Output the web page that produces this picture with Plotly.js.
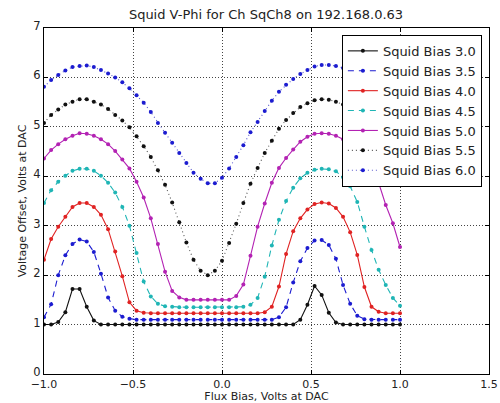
<!DOCTYPE html>
<html>
<head>
<meta charset="utf-8">
<script src="https://cdn.plot.ly/plotly-3.0.1.min.js"></script>
<style>html,body{margin:0;padding:0;background:#fff;}#chart{width:500px;height:403px;}</style>
</head>
<body>
<div id="chart"></div>
<script>
var fluxBias = [-1.00,-0.96,-0.92,-0.88,-0.84,-0.80,-0.76,-0.72,-0.68,-0.64,-0.60,-0.56,-0.52,-0.48,-0.44,-0.40,-0.36,-0.32,-0.28,-0.24,-0.20,-0.16,-0.12,-0.08,-0.04,0.00,0.04,0.08,0.12,0.16,0.20,0.24,0.28,0.32,0.36,0.40,0.44,0.48,0.52,0.56,0.60,0.64,0.68,0.72,0.76,0.80,0.84,0.88,0.92,0.96,1.00];

var bias30 = [1.00,1.00,1.05,1.25,1.72,1.72,1.36,1.08,1.00,
  1.00,1.00,1.00,1.00,1.00,1.00,1.00,1.00,1.00,1.00,1.00,1.00,1.00,1.00,1.00,1.00,1.00,1.00,1.00,1.00,1.00,1.00,1.00,1.00,1.00,1.00,
  1.00,1.10,1.40,1.78,1.60,1.24,1.04,
  1.00,1.00,1.00,1.00,1.00,1.00,1.00,1.00,1.00];

var bias35 = [1.15,1.41,2.00,2.40,2.63,2.72,2.68,2.47,2.03,1.55,1.28,1.16,1.12,1.10,
  1.10,1.10,1.10,1.10,1.10,1.10,1.10,1.10,1.10,1.10,1.10,1.10,1.10,1.10,1.10,1.10,1.10,1.10,1.10,
  1.15,1.35,1.85,2.28,2.55,2.70,2.71,2.61,2.33,1.80,1.42,1.18,1.11,
  1.10,1.10,1.10,1.10,1.10];

var bias40 = [2.31,2.73,2.98,3.18,3.38,3.46,3.46,3.38,3.22,2.93,2.48,1.98,1.45,1.28,1.24,
  1.23,1.23,1.23,1.23,1.23,1.23,1.23,1.23,1.23,1.23,1.23,1.23,1.23,1.23,1.23,
  1.23,1.25,1.36,1.77,2.43,2.89,3.15,3.33,3.44,3.47,3.45,3.36,3.18,2.87,2.41,1.76,1.36,1.26,1.23,1.23,1.23];

var bias45 = [3.46,3.72,3.89,4.01,4.11,4.15,4.15,4.11,4.01,3.87,3.67,3.38,3.00,2.45,1.87,1.57,1.42,1.37,1.36,
  1.35,1.35,1.35,1.35,1.35,1.35,1.35,1.35,1.35,
  1.36,1.40,1.54,1.97,2.60,3.12,3.50,3.77,3.96,4.07,4.13,4.15,4.14,4.10,3.98,3.80,3.48,2.98,2.51,2.11,1.80,1.54,1.38];

var bias50 = [4.36,4.53,4.65,4.75,4.82,4.87,4.86,4.82,4.75,4.65,4.51,4.34,4.16,3.89,3.57,3.15,2.63,2.07,1.68,1.55,1.50,
  1.50,1.50,1.50,1.50,1.50,1.50,
  1.58,1.81,2.39,2.98,3.45,3.87,4.17,4.37,4.54,4.70,4.80,4.86,4.87,4.86,4.82,4.75,4.65,4.51,4.34,4.14,3.87,3.42,3.05,2.57];

var bias55 = [5.08,5.24,5.35,5.45,5.51,5.56,5.56,5.51,5.45,5.36,5.24,5.13,4.99,4.81,4.61,4.39,4.12,3.83,3.47,3.07,2.66,2.31,2.09,2.00,2.09,2.29,2.65,3.04,3.46,3.85,4.17,4.47,4.72,4.96,5.14,5.28,5.40,5.48,5.54,5.56,5.55,5.51,5.45,5.36,5.24,5.13,4.99,4.81,4.61,4.39,4.12];

var bias60 = [5.81,5.95,6.05,6.14,6.21,6.23,6.24,6.21,6.15,6.08,6.00,5.90,5.78,5.64,5.49,5.30,5.08,4.88,4.68,4.47,4.27,4.07,3.95,3.86,3.86,3.97,4.16,4.39,4.63,4.89,5.10,5.32,5.53,5.71,5.85,5.97,6.07,6.15,6.22,6.25,6.25,6.23,6.19,6.13,6.06,5.97,5.86,5.73,5.58,5.42,5.24];

var seriesNames = ['Squid Bias 3.0','Squid Bias 3.5','Squid Bias 4.0','Squid Bias 4.5','Squid Bias 5.0','Squid Bias 5.5','Squid Bias 6.0'];
var seriesValues = [bias30, bias35, bias40, bias45, bias50, bias55, bias60];
var seriesColors = ['#111111','#1c1cd0','#e02222','#1fb5b5','#b322b3','#111111','#1c1cd0'];
var lineColors = ['#111111','#1c1cd0','#e02222','#1fb5b5','#b322b3','#555555','#5555cc'];
var seriesDash = ['solid','6px,5px','solid','6px,5px','solid','1px,3px','1px,3px'];

var xTickVals = [-1.0,-0.5,0.0,0.5,1.0,1.5];
var xTickText = ['\u22121.0','\u22120.5','0.0','0.5','1.0','1.5'];
var yTickVals = [0,1,2,3,4,5,6,7];

var traces = seriesNames.map(function(name, k){
  return {
    x: fluxBias, y: seriesValues[k], name: name,
    type: 'scatter', mode: 'lines+markers',
    line: {color: lineColors[k], width: 1.1, dash: seriesDash[k]},
    marker: {color: seriesColors[k], size: 4}
  };
});

var fontFam = 'DejaVu Sans, sans-serif';
var layout = {
  width: 500, height: 403,
  margin: {l: 44, r: 11, t: 28, b: 29},
  paper_bgcolor: '#fff', plot_bgcolor: '#fff',
  font: {family: fontFam, color: '#222', size: 11},
  title: {text: 'Squid V-Phi for Ch SqCh8 on 192.168.0.63', font: {size: 13, family: fontFam, color: '#222'},
          x: 0.532, xanchor: 'center', y: 0.963, yanchor: 'middle'},
  xaxis: {
    range: [-1.0, 1.5], tickvals: xTickVals, ticktext: xTickText,
    ticks: 'inside', ticklen: 4, tickcolor: '#000',
    showline: true, linecolor: '#000', linewidth: 1, mirror: 'allticks',
    showgrid: true, gridcolor: '#444', gridwidth: 1, griddash: '1px,2px',
    zeroline: false, tickfont: {size: 11},
    automargin: false,
    title: {text: 'Flux Bias, Volts at DAC', font: {size: 11}, standoff: 2}
  },
  yaxis: {
    range: [0, 7], tickvals: yTickVals,
    ticks: 'inside', ticklen: 4, tickcolor: '#000',
    showline: true, linecolor: '#000', linewidth: 1, mirror: 'allticks',
    showgrid: true, gridcolor: '#444', gridwidth: 1, griddash: '1px,2px',
    zeroline: false, tickfont: {size: 11.5}, ticklabelshift: -2,
    automargin: false,
    title: {text: 'Voltage Offset, Volts at DAC', font: {size: 11}, standoff: 4}
  },
  showlegend: true,
  legend: {
    x: 0.984, xanchor: 'right', y: 0.98, yanchor: 'top',
    bgcolor: '#fff', bordercolor: '#000', borderwidth: 1,
    font: {size: 13, family: fontFam, color: '#222'},
    itemwidth: 30
  }
};

Plotly.newPlot('chart', traces, layout, {displayModeBar: false, staticPlot: true});
</script>
</body>
</html>
